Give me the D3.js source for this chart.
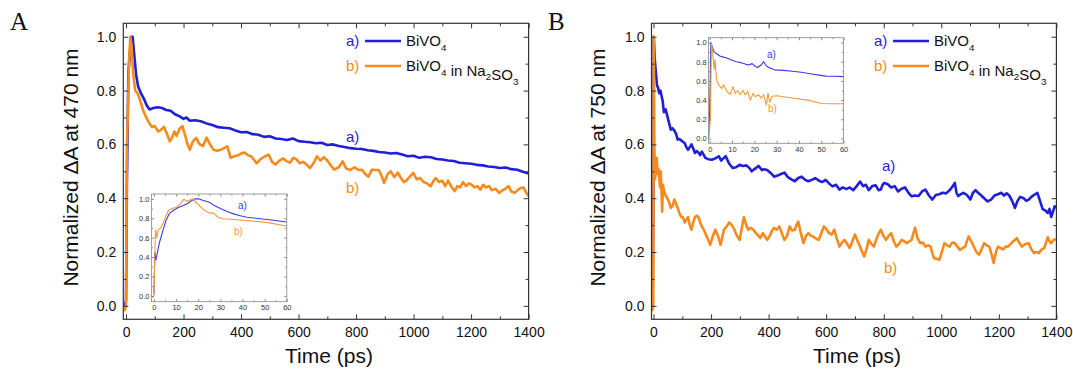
<!DOCTYPE html>
<html>
<head>
<meta charset="utf-8">
<script src="https://cdn.jsdelivr.net/npm/d3@7"></script>
<style>
  body { margin: 0; background: #fff; }
  svg { display: block; font-family: Arial, "Liberation Sans", sans-serif; }
</style>
</head>
<body>
<svg id="chart" width="1073" height="371"></svg>
<script>
const blue = "#1f1fd6";
const orange = "#f78a1d";

// time (ps), normalized dA
const bluePanelA = [[-5,0],[0,0.02],[3,0.45],[8,0.86],[14,0.95],[19,1.0],[23,1.0],[28,0.94],[35,0.86],[42,0.815],[52,0.79],[62,0.77],[72,0.745],[82,0.73],[95,0.735],[110,0.738],[125,0.735],[140,0.728],[155,0.725],[170,0.712],[185,0.705],[200,0.695],[210,0.7],[222,0.688],[240,0.69],[260,0.686],[280,0.678],[300,0.672],[320,0.664],[340,0.662],[360,0.66],[380,0.652],[400,0.645],[420,0.646],[440,0.638],[460,0.636],[480,0.628],[500,0.63],[520,0.622],[540,0.62],[560,0.616],[580,0.622],[600,0.612],[620,0.61],[640,0.608],[660,0.604],[680,0.606],[700,0.598],[720,0.6],[740,0.594],[760,0.59],[780,0.586],[800,0.584],[820,0.583],[840,0.578],[860,0.576],[880,0.572],[900,0.57],[920,0.566],[940,0.568],[960,0.562],[980,0.556],[1000,0.558],[1020,0.55],[1040,0.554],[1060,0.552],[1080,0.546],[1100,0.544],[1120,0.54],[1140,0.538],[1160,0.532],[1180,0.53],[1200,0.528],[1220,0.524],[1240,0.522],[1260,0.518],[1280,0.516],[1300,0.512],[1320,0.514],[1340,0.508],[1360,0.506],[1380,0.498],[1400,0.492]];
const orangePanelA = [[-6,-0.02],[0,0],[3,0.6],[6,0.7],[10,0.9],[15,1.0],[19,0.97],[25,0.86],[32,0.8],[40,0.79],[50,0.76],[60,0.725],[70,0.7],[80,0.68],[90,0.665],[100,0.668],[112,0.648],[122,0.655],[132,0.665],[142,0.64],[152,0.612],[160,0.625],[168,0.648],[176,0.632],[186,0.658],[196,0.668],[206,0.632],[214,0.6],[222,0.58],[232,0.61],[244,0.624],[256,0.6],[268,0.594],[280,0.625],[292,0.6],[304,0.58],[316,0.576],[330,0.58],[344,0.588],[352,0.593],[364,0.55],[376,0.556],[390,0.56],[400,0.566],[412,0.57],[424,0.56],[436,0.555],[454,0.53],[468,0.545],[482,0.555],[496,0.562],[508,0.535],[520,0.525],[534,0.54],[546,0.548],[558,0.538],[570,0.532],[582,0.55],[592,0.545],[604,0.53],[616,0.535],[628,0.525],[640,0.512],[652,0.53],[664,0.556],[676,0.54],[688,0.552],[700,0.54],[712,0.522],[724,0.506],[740,0.515],[753,0.537],[766,0.51],[780,0.505],[795,0.515],[808,0.505],[820,0.506],[832,0.49],[843,0.48],[855,0.506],[867,0.505],[879,0.505],[890,0.48],[897,0.457],[910,0.49],[921,0.5],[933,0.478],[945,0.495],[956,0.475],[966,0.46],[975,0.465],[987,0.48],[999,0.494],[1011,0.47],[1023,0.475],[1035,0.46],[1047,0.455],[1059,0.444],[1068,0.462],[1077,0.475],[1089,0.46],[1100,0.465],[1110,0.445],[1120,0.465],[1130,0.445],[1143,0.426],[1152,0.445],[1162,0.44],[1172,0.46],[1182,0.445],[1192,0.455],[1202,0.45],[1212,0.44],[1222,0.445],[1232,0.432],[1242,0.45],[1252,0.44],[1262,0.445],[1272,0.43],[1285,0.435],[1298,0.42],[1310,0.43],[1320,0.435],[1330,0.445],[1340,0.425],[1352,0.42],[1362,0.43],[1372,0.438],[1382,0.44],[1392,0.42],[1400,0.407]];
const bluePanelB = [[-3,0],[0,0.5],[1,1.0],[4,0.92],[8,0.87],[12,0.82],[16,0.81],[20,0.79],[24,0.8],[28,0.78],[32,0.76],[36,0.72],[42,0.73],[48,0.705],[54,0.68],[60,0.655],[66,0.66],[72,0.652],[78,0.64],[84,0.618],[90,0.62],[96,0.615],[102,0.61],[108,0.605],[114,0.59],[120,0.58],[126,0.59],[132,0.6],[138,0.585],[144,0.568],[150,0.575],[156,0.57],[162,0.56],[168,0.573],[174,0.562],[180,0.55],[190,0.545],[203,0.543],[215,0.548],[227,0.556],[235,0.54],[243,0.548],[251,0.556],[262,0.53],[275,0.512],[287,0.515],[299,0.524],[311,0.52],[323,0.522],[335,0.51],[341,0.5],[353,0.51],[365,0.52],[377,0.504],[383,0.508],[395,0.505],[407,0.494],[419,0.48],[431,0.484],[443,0.49],[455,0.495],[467,0.478],[479,0.47],[491,0.463],[503,0.475],[515,0.48],[527,0.468],[538,0.463],[550,0.468],[562,0.475],[574,0.466],[586,0.46],[598,0.468],[610,0.455],[622,0.444],[634,0.45],[646,0.432],[658,0.44],[670,0.434],[682,0.44],[694,0.43],[706,0.445],[718,0.462],[728,0.445],[738,0.45],[748,0.43],[760,0.445],[772,0.448],[782,0.43],[790,0.432],[796,0.45],[802,0.457],[814,0.452],[826,0.44],[838,0.445],[850,0.425],[862,0.435],[874,0.44],[886,0.42],[897,0.407],[909,0.41],[921,0.408],[933,0.425],[945,0.432],[957,0.41],[969,0.395],[981,0.412],[993,0.415],[1005,0.42],[1017,0.418],[1029,0.43],[1037,0.44],[1047,0.457],[1053,0.42],[1059,0.408],[1068,0.415],[1077,0.42],[1089,0.412],[1101,0.395],[1110,0.42],[1119,0.43],[1128,0.42],[1137,0.412],[1149,0.4],[1161,0.388],[1173,0.395],[1185,0.41],[1197,0.415],[1209,0.42],[1218,0.41],[1227,0.418],[1236,0.41],[1244,0.395],[1250,0.38],[1256,0.364],[1265,0.39],[1274,0.405],[1286,0.4],[1295,0.39],[1304,0.395],[1313,0.405],[1322,0.412],[1334,0.42],[1343,0.39],[1352,0.36],[1361,0.355],[1370,0.345],[1376,0.36],[1382,0.33],[1388,0.35],[1394,0.37],[1400,0.365]];
const orangePanelB = [[-5,-0.02],[-1,0],[1,1.0],[3,0.6],[5,0.47],[8,0.5],[11,0.55],[14,0.49],[17,0.51],[20,0.47],[23,0.44],[25,0.5],[28,0.42],[30,0.35],[33,0.45],[36,0.43],[42,0.41],[48,0.4],[54,0.385],[60,0.364],[66,0.37],[72,0.395],[78,0.38],[84,0.364],[90,0.345],[96,0.33],[102,0.33],[108,0.31],[114,0.32],[120,0.33],[126,0.3],[132,0.283],[138,0.31],[144,0.33],[150,0.335],[156,0.33],[162,0.31],[168,0.295],[174,0.285],[180,0.27],[188,0.25],[197,0.227],[206,0.26],[215,0.283],[224,0.26],[233,0.227],[240,0.26],[245,0.283],[254,0.295],[263,0.31],[272,0.3],[281,0.283],[290,0.26],[299,0.245],[307,0.29],[314,0.33],[322,0.3],[329,0.283],[338,0.29],[347,0.283],[356,0.27],[365,0.26],[371,0.252],[380,0.27],[389,0.255],[395,0.245],[404,0.26],[412,0.28],[419,0.29],[428,0.283],[437,0.295],[446,0.27],[455,0.245],[464,0.26],[473,0.295],[482,0.28],[491,0.283],[497,0.3],[503,0.313],[512,0.27],[521,0.233],[530,0.26],[538,0.27],[547,0.26],[556,0.257],[565,0.25],[574,0.245],[583,0.27],[592,0.295],[601,0.285],[610,0.27],[619,0.265],[628,0.283],[637,0.25],[646,0.22],[655,0.235],[664,0.245],[673,0.23],[682,0.215],[691,0.24],[700,0.265],[709,0.24],[718,0.22],[725,0.2],[732,0.184],[740,0.21],[748,0.245],[757,0.23],[766,0.22],[775,0.25],[783,0.27],[790,0.283],[799,0.26],[808,0.245],[817,0.26],[826,0.27],[835,0.24],[844,0.22],[853,0.23],[862,0.245],[871,0.24],[880,0.233],[889,0.24],[897,0.245],[903,0.27],[909,0.29],[918,0.25],[927,0.233],[936,0.235],[945,0.22],[954,0.225],[963,0.22],[969,0.195],[975,0.177],[984,0.175],[993,0.171],[1002,0.2],[1011,0.233],[1020,0.225],[1029,0.22],[1038,0.235],[1047,0.233],[1056,0.22],[1065,0.208],[1074,0.215],[1083,0.22],[1089,0.24],[1095,0.258],[1104,0.24],[1113,0.22],[1122,0.2],[1131,0.19],[1140,0.21],[1149,0.233],[1158,0.225],[1167,0.22],[1175,0.19],[1182,0.159],[1190,0.2],[1197,0.22],[1206,0.215],[1215,0.21],[1224,0.22],[1232,0.22],[1241,0.23],[1250,0.24],[1256,0.245],[1262,0.252],[1271,0.235],[1280,0.22],[1292,0.23],[1304,0.233],[1313,0.21],[1322,0.196],[1331,0.2],[1340,0.196],[1349,0.21],[1358,0.215],[1364,0.235],[1370,0.255],[1376,0.24],[1382,0.233],[1390,0.245],[1398,0.248]];

// insets, first 60 ps
const blueInsetA = [[0,0.02],[0.4,0.45],[0.9,0.37],[1.5,0.44],[2.5,0.55],[4,0.67],[5.5,0.78],[7,0.85],[9,0.885],[11,0.91],[13,0.93],[15,0.95],[17,0.98],[18.5,1.0],[20,1.0],[22,0.985],[25,0.965],[27,0.935],[30,0.9],[33,0.87],[36,0.845],[39,0.825],[42,0.81],[48,0.795],[54,0.78],[60,0.762]];
const orangeInsetA = [[-1,-0.02],[0,0],[0.3,0.3],[0.6,0.6],[0.8,0.68],[1.2,0.6],[2,0.68],[3,0.7],[4,0.74],[5,0.8],[6.5,0.88],[8,0.9],[10,0.91],[12,0.95],[13.5,0.995],[15,0.975],[16.5,0.99],[17.5,1.0],[19,0.965],[21,0.92],[23,0.88],[25,0.855],[27,0.85],[29,0.81],[31,0.795],[35,0.79],[40,0.78],[50,0.76],[60,0.72]];
const blueInsetB = [[-0.5,0],[0,0.3],[0.5,1.0],[1.2,0.95],[2,0.9],[3,0.885],[4.5,0.86],[6,0.85],[8,0.835],[10,0.815],[12,0.8],[14,0.79],[16,0.775],[17.5,0.765],[19,0.78],[20.5,0.75],[21.5,0.74],[23,0.765],[24.2,0.8],[25.4,0.756],[27,0.735],[29,0.715],[33,0.71],[37,0.7],[41,0.69],[45,0.675],[49,0.66],[52,0.65],[56,0.648],[60,0.645]];
const orangeInsetB = [[-0.5,0],[0.3,0.2],[0.8,1.0],[1.5,0.85],[2,0.72],[2.4,0.82],[3,0.62],[4,0.56],[5.4,0.52],[6.2,0.56],[7.7,0.49],[9.2,0.46],[10.4,0.54],[11.4,0.47],[12.5,0.5],[13.7,0.455],[14.9,0.5],[15.9,0.455],[17,0.49],[18.2,0.4],[19.4,0.47],[20.4,0.435],[21.9,0.455],[23,0.42],[24.2,0.455],[25.4,0.35],[26.1,0.47],[26.9,0.38],[28,0.44],[30,0.445],[36,0.425],[44,0.4],[50,0.365],[55,0.362],[60,0.362]];

const xTicks = [0, 200, 400, 600, 800, 1000, 1200, 1400];
const xMinor = [100, 300, 500, 700, 900, 1100, 1300];
const yTicks = [0, 0.2, 0.4, 0.6, 0.8, 1.0];
const yMinor = [0.1, 0.3, 0.5, 0.7, 0.9];
const insetXTicks = [0, 10, 20, 30, 40, 50, 60];
const insetXMinor = [5, 15, 25, 35, 45, 55];

const svg = d3.select("#chart");
const fmt1 = d3.format(".1f");

function frameAxes(g, x, y, o) {
  const [x0, x1] = x.range();
  const [y0, y1] = y.range();
  const add = (axis, tr, vals, size, labels, pad) => {
    const a = g.append("g").attr("transform", tr)
      .call(axis.tickValues(vals).tickSize(size).tickPadding(pad || 3)
        .tickFormat(labels ? labels : ""));
    a.select(".domain").remove();
    a.selectAll("line").attr("stroke", o.color);
    a.selectAll("text").attr("font-size", o.font).attr("fill", o.textColor)
      .attr("font-family", "Arial, 'Liberation Sans', sans-serif");
    return a;
  };
  add(d3.axisBottom(x), `translate(0,${y0})`, o.xt, -o.major, o.xfmt, o.xpad);
  add(d3.axisBottom(x), `translate(0,${y0})`, o.xm, -o.minor);
  add(d3.axisTop(x), `translate(0,${y1})`, o.xt, -o.major);
  add(d3.axisTop(x), `translate(0,${y1})`, o.xm, -o.minor);
  add(d3.axisLeft(y), `translate(${x0},0)`, yTicks, -o.major, fmt1, o.ypad);
  add(d3.axisLeft(y), `translate(${x0},0)`, yMinor, -o.minor);
  add(d3.axisRight(y), `translate(${x1},0)`, yTicks, -o.major);
  add(d3.axisRight(y), `translate(${x1},0)`, yMinor, -o.minor);
  g.append("rect").attr("x", x0).attr("y", y1).attr("width", x1 - x0).attr("height", y0 - y1)
    .attr("fill", "none").attr("stroke", o.color).attr("stroke-width", o.frameW);
}

function drawLines(g, x, y, series, width, id) {
  const [x0, x1] = x.range();
  const [y0, y1] = y.range();
  g.append("clipPath").attr("id", id).append("rect")
    .attr("x", x0).attr("y", y1).attr("width", x1 - x0).attr("height", y0 - y1);
  const line = d3.line().x(d => x(d[0])).y(d => y(d[1]));
  series.forEach(s => {
    g.append("path").datum(s.data).attr("clip-path", `url(#${id})`)
      .attr("fill", "none").attr("stroke", s.color).attr("stroke-width", width)
      .attr("stroke-linejoin", "round").attr("d", line);
  });
}

function subText(g, x, y, parts, size, color) {
  const t = g.append("text").attr("x", x).attr("y", y).attr("font-size", size).attr("fill", color);
  parts.forEach(p => {
    if (p.sub) {
      t.append("tspan").attr("font-size", size * 0.66).attr("dy", size * 0.3).text(p.sub);
      t.append("tspan").attr("dy", -size * 0.3).text("");
    } else {
      t.append("tspan").text(p.t);
    }
  });
  return t;
}

function panel(p) {
  const g = svg.append("g");
  const x = d3.scaleLinear().domain(p.xDomain).range(p.xRange);
  const y = d3.scaleLinear().domain([-0.05, 1.05]).range([319.3, 23.3]);

  drawLines(g, x, y, [{data: p.blue, color: blue}, {data: p.orange, color: orange}], 2.6, p.id + "clip");
  frameAxes(g, x, y, {xt: xTicks, xm: xMinor, major: 5, minor: 3, xfmt: d3.format("d"),
    xpad: 8, ypad: 7, font: 14, color: "#333", textColor: "#111", frameW: 1.2});

  // inset
  const ix = d3.scaleLinear().domain(p.ixDomain).range(p.ixRange);
  const iy = d3.scaleLinear().domain(p.iyDomain).range(p.iyRange);
  g.append("rect").attr("x", p.ixRange[0]).attr("y", p.iyRange[1])
    .attr("width", p.ixRange[1] - p.ixRange[0]).attr("height", p.iyRange[0] - p.iyRange[1])
    .attr("fill", "#fff");
  drawLines(g, ix, iy, [{data: p.iblue, color: "#3a3ae6"}, {data: p.iorange, color: "#f29a35"}], 1.1, p.id + "iclip");
  frameAxes(g, ix, iy, {xt: insetXTicks, xm: insetXMinor, major: 2.5, minor: 1.5, xfmt: d3.format("d"),
    xpad: 3, ypad: 2, font: 7.5, color: "#888", textColor: "#333", frameW: 0.8});
  g.append("text").attr("x", p.ia[0]).attr("y", p.ia[1]).attr("font-size", 10).attr("fill", "#3a3ae6").text("a)");
  g.append("text").attr("x", p.ib[0]).attr("y", p.ib[1]).attr("font-size", 10).attr("fill", "#f29a35").text("b)");

  // curve labels
  g.append("text").attr("x", p.la[0]).attr("y", p.la[1]).attr("font-size", 15).attr("fill", blue).text("a)");
  g.append("text").attr("x", p.lb[0]).attr("y", p.lb[1]).attr("font-size", 15).attr("fill", orange).text("b)");

  // legend
  const L = p.legend;
  [[blue, "a)", [{t: "BiVO"}, {sub: "4"}], 46],
   [orange, "b)", [{t: "BiVO"}, {sub: "4"}, {t: " in Na"}, {sub: "2"}, {t: "SO"}, {sub: "3"}], 71]].forEach(r => {
    g.append("text").attr("x", L[0]).attr("y", r[3]).attr("font-size", 15).attr("fill", r[0]).text(r[1]);
    g.append("line").attr("x1", L[1]).attr("x2", L[2]).attr("y1", r[3] - 5).attr("y2", r[3] - 5)
      .attr("stroke", r[0]).attr("stroke-width", 2.6);
    subText(g, L[3], r[3], r[2], 15, "#111");
  });

  // titles
  g.append("text").attr("x", (p.xRange[0] + p.xRange[1]) / 2 + 3).attr("y", 363)
    .attr("text-anchor", "middle").attr("font-size", 21).attr("fill", "#111").text("Time (ps)");
  g.append("text").attr("transform", `translate(${p.yLabelX},167.5) rotate(-90)`)
    .attr("text-anchor", "middle").attr("font-size", 21).attr("fill", "#111").text(p.yLabel);
  g.append("text").attr("x", p.letter[0]).attr("y", 30)
    .attr("font-family", "'Liberation Serif', 'Times New Roman', serif").attr("font-size", 25)
    .attr("fill", "#111").text(p.letter[1]);
}

panel({id: "A", xDomain: [-9.5, 1400], xRange: [123.3, 528.6],
  blue: bluePanelA, orange: orangePanelA,
  ixDomain: [-1.1, 60], ixRange: [151.5, 286.8], iyDomain: [-0.06, 1.05], iyRange: [301.7, 194],
  iblue: blueInsetA, iorange: orangeInsetA, ia: [238, 209], ib: [234, 235],
  la: [346, 142], lb: [346, 193], legend: [346, 365, 401, 406],
  yLabelX: 78, yLabel: "Normalized \u0394A at 470 nm", letter: [10, "A"]});

panel({id: "B", xDomain: [-7, 1400], xRange: [651.5, 1056.4],
  blue: bluePanelB, orange: orangePanelB,
  ixDomain: [-0.5, 60], ixRange: [708.6, 843.6], iyDomain: [-0.05, 1.05], iyRange: [143.3, 37.7],
  iblue: blueInsetB, iorange: orangeInsetB, ia: [767, 58], ib: [768, 112],
  la: [882, 171], lb: [884, 273], legend: [874, 893, 929, 934],
  yLabelX: 605, yLabel: "Normalized \u0394A at 750 nm", letter: [548, "B"]});
</script>
</body>
</html>
